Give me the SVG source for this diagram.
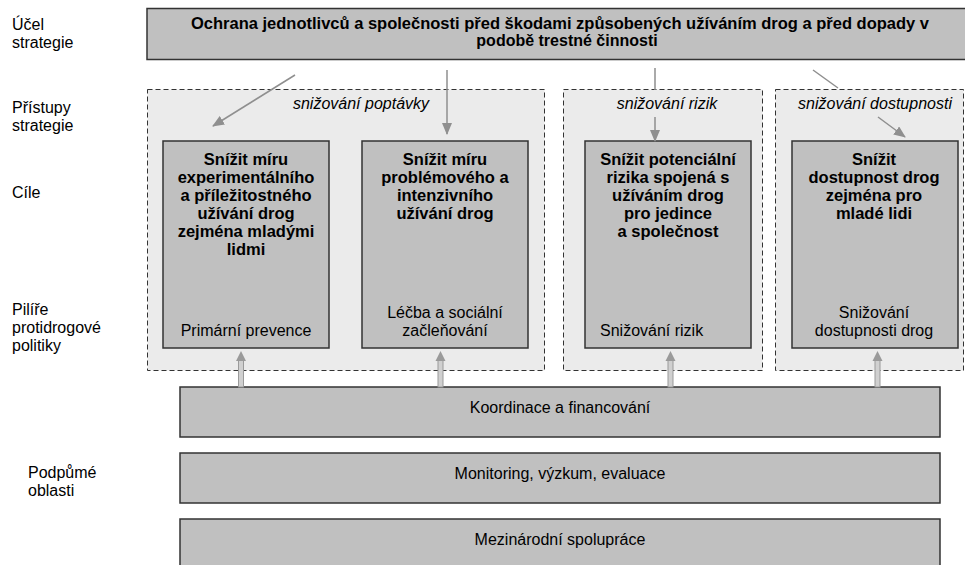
<svg xmlns="http://www.w3.org/2000/svg" width="965" height="565" viewBox="0 0 965 565">
<style>
text{font-family:"Liberation Sans",Arial,sans-serif;fill:#000}
.lbl{font-size:16px}
.box{fill:#c0c0c0;stroke:#333;stroke-width:1.5}
.grp{fill:#ebebeb;stroke:#333;stroke-width:1;stroke-dasharray:5 3}
.title{font-size:16.5px;font-weight:bold;text-anchor:middle}
.pil{font-size:16px}
.mid{text-anchor:middle}
.app{font-size:16px;font-style:italic;text-anchor:middle}
.conn{fill:none;stroke:#8f8f8f;stroke-width:1.5}
.shaft{fill:#d0d0d0;stroke:#9a9a9a;stroke-width:1}
.head{fill:#9a9a9a}
.top{font-size:16px;font-weight:bold}
</style>
<defs>
<marker id="ah" markerUnits="userSpaceOnUse" markerWidth="12" markerHeight="10" viewBox="0 0 12 10" refX="11" refY="5" orient="auto">
<path d="M0,0 L12,5 L0,10 Z" fill="#8f8f8f"/>
</marker>
</defs>
<rect width="965" height="565" fill="#fff"/>

<g id="row-labels">
<text class="lbl" x="12" y="30">Účel</text>
<text class="lbl" x="12" y="48">strategie</text>
<text class="lbl" x="12" y="113">Přístupy</text>
<text class="lbl" x="12" y="131">strategie</text>
<text class="lbl" x="12" y="198">Cíle</text>
<text class="lbl" x="12" y="315">Pilíře</text>
<text class="lbl" x="12" y="333">protidrogové</text>
<text class="lbl" x="12" y="351">politiky</text>
<text class="lbl" x="28" y="478">Podpůmé</text>
<text class="lbl" x="28" y="496">oblasti</text>
</g>

<g id="purpose">
<rect class="box" x="147" y="8.5" width="823" height="51"/>
<text class="top" x="191" y="29" textLength="738" lengthAdjust="spacingAndGlyphs">Ochrana jednotlivců a společnosti před škodami způsobených užíváním drog a před dopady v</text>
<text class="top" x="567" y="46" text-anchor="middle">podobě trestné činnosti</text>
</g>

<g id="approach-demand">
<rect class="grp" x="147.5" y="89.5" width="397" height="281"/>
<text class="app" x="361" y="109">snižování poptávky</text>
</g>
<g id="approach-risk">
<rect class="grp" x="563.5" y="89.5" width="199" height="281"/>
<text class="app" x="667" y="109">snižování rizik</text>
</g>
<g id="approach-supply">
<rect class="grp" x="775.5" y="89.5" width="188" height="281"/>
<text class="app" x="875" y="109">snižování dostupnosti</text>
</g>

<g id="goal-prevention">
<rect class="box" x="163" y="141" width="166" height="207"/>
<text class="title" x="246" y="165">Snížit míru</text>
<text class="title" x="246" y="183">experimentálního</text>
<text class="title" x="246" y="201">a příležitostného</text>
<text class="title" x="246" y="219">užívání drog</text>
<text class="title" x="246" y="237">zejména mladými</text>
<text class="title" x="246" y="255">lidmi</text>
<text class="pil mid" x="246" y="336">Primární prevence</text>
</g>
<g id="goal-treatment">
<rect class="box" x="362" y="141" width="166" height="207"/>
<text class="title" x="445" y="165">Snížit míru</text>
<text class="title" x="445" y="183">problémového a</text>
<text class="title" x="445" y="201">intenzivního</text>
<text class="title" x="445" y="219">užívání drog</text>
<text class="pil mid" x="445" y="318">Léčba a sociální</text>
<text class="pil mid" x="445" y="336">začleňování</text>
</g>
<g id="goal-risk">
<rect class="box" x="585" y="141" width="166" height="207"/>
<text class="title" x="668" y="165">Snížit potenciální</text>
<text class="title" x="668" y="183">rizika spojená s</text>
<text class="title" x="668" y="201">užíváním drog</text>
<text class="title" x="668" y="219">pro jedince</text>
<text class="title" x="668" y="237">a společnost</text>
<text class="pil" x="600" y="336">Snižování rizik</text>
</g>
<g id="goal-supply">
<rect class="box" x="792" y="141" width="166" height="207"/>
<text class="title" x="874" y="165">Snížit</text>
<text class="title" x="874" y="183">dostupnost drog</text>
<text class="title" x="874" y="201">zejména pro</text>
<text class="title" x="874" y="219">mladé lidi</text>
<text class="pil mid" x="874" y="318">Snižování</text>
<text class="pil mid" x="874" y="336">dostupnosti drog</text>
</g>

<g id="support-coordination">
<rect class="box" x="180" y="387" width="760" height="50"/>
<text class="pil mid" x="560" y="413">Koordinace a financování</text>
</g>
<g id="support-monitoring">
<rect class="box" x="180" y="453" width="760" height="50"/>
<text class="pil mid" x="560" y="479">Monitoring, výzkum, evaluace</text>
</g>
<g id="support-international">
<rect class="box" x="180" y="519" width="760" height="60"/>
<text class="pil mid" x="560" y="545">Mezinárodní spolupráce</text>
</g>

<g id="connectors">
<path class="conn" d="M295,75 L213,126" marker-end="url(#ah)"/>
<path class="conn" d="M447,70 L447,134" marker-end="url(#ah)"/>
<path class="conn" d="M655,68 L655,90 M655,117 L655,141" marker-end="url(#ah)"/>
<path class="conn" d="M813,70 L838,88 M878,117 L905,137" marker-end="url(#ah)"/>
<g>
<rect class="shaft" x="238.5" y="360" width="5" height="27"/>
<path class="head" d="M241,351 L246,361 L236,361 Z"/>
</g>
<g>
<rect class="shaft" x="438" y="360" width="5" height="27"/>
<path class="head" d="M440.5,351 L445.5,361 L435.5,361 Z"/>
</g>
<g>
<rect class="shaft" x="668" y="360" width="5" height="27"/>
<path class="head" d="M670.5,351 L675.5,361 L665.5,361 Z"/>
</g>
<g>
<rect class="shaft" x="875" y="360" width="5" height="27"/>
<path class="head" d="M877.5,351 L882.5,361 L872.5,361 Z"/>
</g>
</g>
</svg>
